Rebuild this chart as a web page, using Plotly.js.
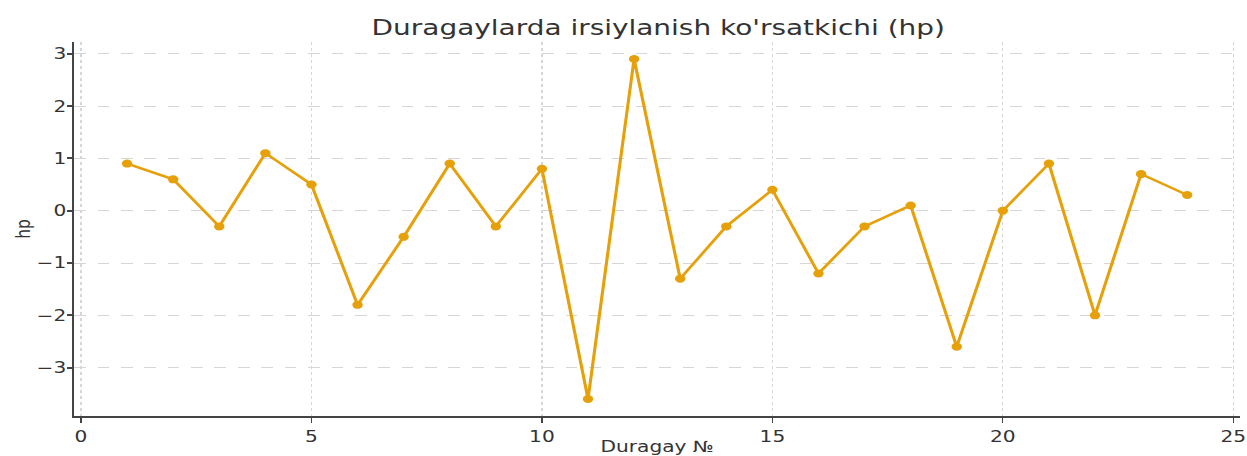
<!DOCTYPE html>
<html><head><meta charset="utf-8">
<script src="https://cdn.plot.ly/plotly-3.0.1.min.js"></script>
<style>
html,body{margin:0;padding:0;background:#fff;overflow:hidden}
#wrap{width:1247px;height:456px;overflow:hidden}
#chart{width:959px;height:456px;transform:scaleX(1.3);transform-origin:0 0}
</style>
</head><body><div id="wrap"><div id="chart"></div></div>
<script>
const duragay = [1,2,3,4,5,6,7,8,9,10,11,12,13,14,15,16,17,18,19,20,21,22,23,24];
const hp = [0.9,0.6,-0.3,1.1,0.5,-1.8,-0.5,0.9,-0.3,0.8,-3.6,2.9,-1.3,-0.3,0.4,-1.2,-0.3,0.1,-2.6,0.0,0.9,-2.0,0.7,0.3];
const titleText = "Duragaylarda irsiylanish ko'rsatkichi (hp)";
const xTitle = "Duragay №";
const yTitle = "hp";
const xTicks = [0,5,10,15,20,25];
const yTicks = [-3,-2,-1,0,1,2,3];
const font = "DejaVu Sans, sans-serif";
Plotly.newPlot('chart', [{
  x: duragay, y: hp, type: 'scatter', mode: 'lines+markers',
  line: {color: '#E6A00A', width: 2.4},
  marker: {color: '#E6A00A', size: 8}
}], {
  width: 959, height: 456,
  margin: {l: 57, r: 5, t: 42, b: 40},
  paper_bgcolor: '#fff', plot_bgcolor: '#fff',
  showlegend: false,
  font: {family: font, color: '#333', size: 15},
  title: {text: titleText, x: 0.528, xanchor: 'center', y: 0.94, yanchor: 'middle', font: {family: font, size: 21.5, color: '#333'}},
  xaxis: {
    range: [-0.15, 25.15], tickvals: xTicks, ticks: 'outside', ticklen: 5, tickwidth: 1.2, tickcolor: '#444',
    ticklabeloverflow: 'allow',
    showline: true, linecolor: '#444', linewidth: 2, zeroline: false,
    showgrid: true, gridcolor: '#d6d6d6', griddash: 'dot', gridwidth: 1,
    tickfont: {size: 15.5, color: '#333'},
    title: {text: xTitle, font: {size: 15.5, color: '#333'}, standoff: 7}
  },
  yaxis: {
    range: [-3.925, 3.225], tickvals: yTicks, ticks: 'outside', ticklen: 4, tickwidth: 1.5, tickcolor: '#444',
    ticklabeloverflow: 'allow', ticklabelstandoff: -3,
    showline: true, linecolor: '#444', linewidth: 1.6, zeroline: false,
    showgrid: true, gridcolor: '#d6d6d6', griddash: 'dash', gridwidth: 1,
    tickfont: {size: 15.5, color: '#333'},
    title: {text: yTitle, font: {size: 15.5, color: '#333'}, standoff: 1}
  }
}, {displayModeBar: false});
</script></body></html>
